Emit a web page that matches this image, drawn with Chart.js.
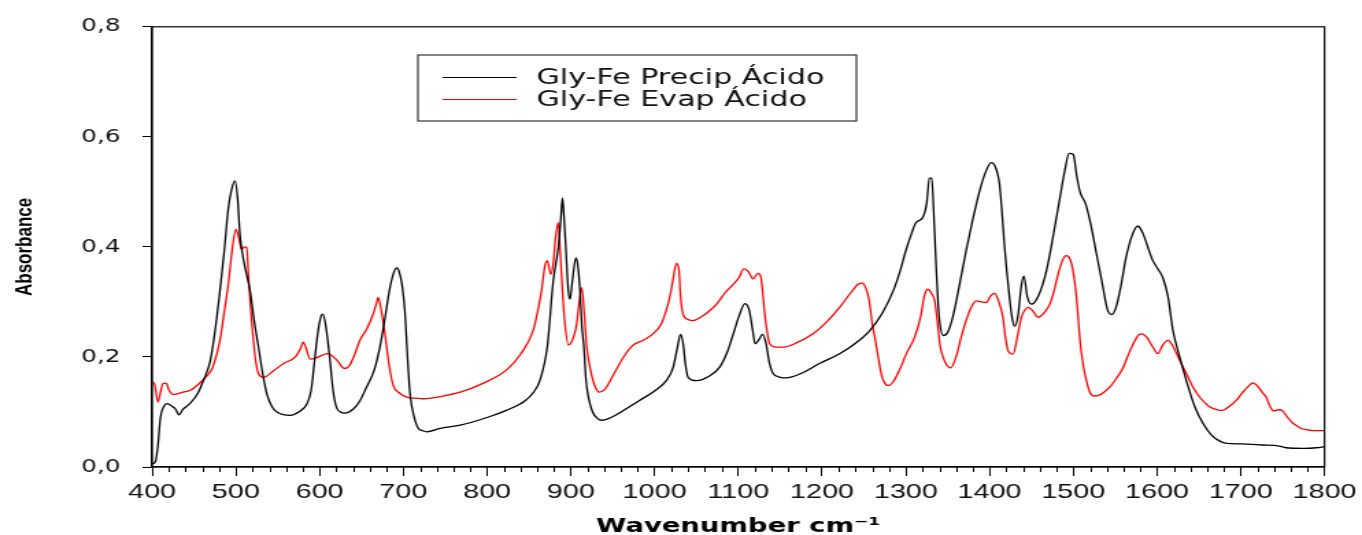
<!DOCTYPE html>
<html><head><meta charset="utf-8">
<script src="https://cdn.jsdelivr.net/npm/chart.js@4"></script>
<style>
html,body{margin:0;padding:0;background:#fff;overflow:hidden;}
#wrap{width:994px;height:535px;transform:scaleX(1.37022);transform-origin:0 0;}
canvas{display:block;}
</style></head><body>
<div id="wrap"><canvas id="c" width="994" height="535"></canvas></div>
<script>
const seriesNames = ['Gly-Fe Precip Ácido', 'Gly-Fe Evap Ácido'];
const xTitle = 'Wavenumber cm⁻¹';
const yTitle = 'Absorbance';

const precipWn = [
  400,404,407,410,414,418,424,428,432,437,
  445,455,462,469,475,481,486,491,495,499,
  502,505,510,517,522,527,532,537,543,549,
  557,565,575,585,590,594.5,598,602,604,607,
  612,616,620,625,630,640,648,656,665,672,
  678,684,689,692,695,699,702,705,708,713,
  718,723,728,744,768,800,823,845,855,863,872,
  879,885,888,890,892,894,897,899,902,906,
  908,911,913,915.6,918,921,926,932,937,945,
  960,982,1000,1014,1022,1027,1031,1034,1037,1040,
  1050,1065,1078,1087,1094,1101,1108,1113,1117,1120,
  1124,1129,1133,1137,1141.5,1150,1157,1175,1197,1221,
  1240,1257,1272,1285,1293,1300,1307,1312,1320,1325,
  1328,1331,1334,1337,1340,1345,1350,1356,1364,1372,
  1380,1388,1395,1402,1407,1412,1415,1418,1423,1427,
  1430,1434,1438,1441,1445,1450,1458,1468,1476,1484,
  1490,1495,1500,1504,1508,1515,1521,1527,1535,1541,
  1546,1551,1557,1563,1570,1577,1583,1590,1595,1601,
  1607,1613,1619,1627,1635,1645,1655,1665,1675,1683,
  1700,1725,1746,1754,1775,1790,1800
];
const precipAbs = [
  0.005,0.01,0.04,0.09,0.11,0.115,0.11,0.105,0.095,0.105,
  0.115,0.135,0.16,0.19,0.245,0.32,0.39,0.47,0.505,0.52,
  0.49,0.42,0.37,0.32,0.265,0.218,0.17,0.133,0.11,0.1,
  0.095,0.094,0.1,0.115,0.14,0.2,0.245,0.275,0.278,0.26,
  0.2,0.14,0.109,0.1,0.098,0.105,0.12,0.145,0.175,0.218,
  0.27,0.326,0.355,0.362,0.355,0.325,0.28,0.2,0.133,0.09,
  0.07,0.066,0.064,0.07,0.076,0.09,0.103,0.12,0.135,0.157,0.22,
  0.338,0.399,0.45,0.489,0.45,0.399,0.32,0.305,0.34,0.38,
  0.37,0.32,0.26,0.218,0.16,0.127,0.1,0.088,0.085,0.088,
  0.1,0.121,0.138,0.157,0.18,0.215,0.241,0.225,0.185,0.163,
  0.157,0.165,0.182,0.21,0.242,0.275,0.297,0.285,0.25,0.224,
  0.23,0.241,0.225,0.19,0.17,0.163,0.162,0.17,0.188,0.206,
  0.225,0.248,0.28,0.32,0.355,0.393,0.425,0.444,0.453,0.48,
  0.525,0.525,0.44,0.34,0.27,0.239,0.245,0.272,0.33,0.393,
  0.45,0.501,0.535,0.553,0.545,0.513,0.46,0.399,0.32,0.27,
  0.256,0.275,0.33,0.347,0.31,0.296,0.31,0.357,0.42,0.489,
  0.54,0.57,0.568,0.53,0.5,0.477,0.44,0.393,0.33,0.285,
  0.277,0.29,0.33,0.381,0.42,0.438,0.425,0.395,0.375,0.36,
  0.344,0.31,0.248,0.2,0.157,0.11,0.079,0.058,0.047,0.043,
  0.042,0.04,0.038,0.035,0.034,0.035,0.037
];

const evapWn = [
  400,403,407,410,413,417,420,425,430,437,
  445,455,465,472,481,486,491,496,500,503,
  507,510,513,515,517,521,524,527,533,545,
  557,571,577,580.6,584,588.6,595,603,610,620,
  630,636,642,648,656,664,668,670,673,678,
  683,688,695,704,715,724,744,768,795,823,
  840,855,860,865,869,872,876,879,882,885,
  887,890,893,897,900,904,907,910,913,916,
  919,923,928,934,940,950,963,974,986,998,
  1008,1014,1018,1022,1026,1029,1031,1034,1040,1046,
  1055,1065,1074,1085,1094,1101,1106.5,1112,1117.6,1123.6,
  1127,1131.6,1135,1137.5,1145,1153.4,1170,1190,1207,1221,
  1235,1243,1248,1252,1256,1260,1263,1267,1271,1275,
  1279,1285,1293,1300.7,1310.6,1318,1322,1326,1331,1334.5,
  1338,1341,1344.4,1349,1353.6,1360,1366,1372,1378,1384,
  1390,1396,1401,1406,1410,1416,1419,1422,1428,1433,
  1438,1442,1446,1452,1458,1465,1472,1477,1482,1487,
  1491.6,1496,1499.6,1503,1505.5,1508,1511.5,1516,1520,1525.4,
  1533,1543.4,1551,1559,1566,1573,1578,1582,1588,1595,
  1601,1607,1613,1618,1627,1635,1643,1652,1663,1672,
  1678.6,1686,1694.6,1703,1710,1714.4,1720,1726,1730.3,1735,
  1739,1745,1750,1756,1762,1766,1772,1778,1788,1800
];
const evapAbs = [
  0.155,0.15,0.118,0.135,0.152,0.152,0.14,0.132,0.133,0.136,
  0.139,0.15,0.165,0.18,0.23,0.28,0.332,0.4,0.432,0.42,
  0.395,0.4,0.399,0.35,0.302,0.23,0.19,0.17,0.163,0.175,
  0.188,0.2,0.215,0.227,0.215,0.196,0.198,0.203,0.206,0.195,
  0.179,0.185,0.205,0.23,0.25,0.278,0.298,0.308,0.29,0.242,
  0.185,0.148,0.135,0.127,0.125,0.124,0.128,0.136,0.152,0.176,
  0.205,0.248,0.28,0.32,0.365,0.375,0.35,0.37,0.42,0.444,
  0.4,0.32,0.26,0.222,0.225,0.24,0.26,0.3,0.326,0.28,
  0.218,0.18,0.15,0.136,0.14,0.165,0.2,0.221,0.23,0.242,
  0.26,0.285,0.308,0.34,0.37,0.36,0.31,0.278,0.268,0.266,
  0.272,0.283,0.296,0.318,0.332,0.345,0.36,0.355,0.342,0.352,
  0.345,0.278,0.24,0.224,0.218,0.218,0.226,0.243,0.266,0.29,
  0.318,0.332,0.334,0.326,0.305,0.26,0.236,0.2,0.167,0.152,
  0.148,0.155,0.178,0.206,0.236,0.275,0.31,0.323,0.315,0.302,
  0.26,0.22,0.2,0.185,0.18,0.2,0.235,0.266,0.29,0.302,
  0.3,0.299,0.31,0.316,0.305,0.272,0.235,0.212,0.205,0.235,
  0.272,0.285,0.29,0.283,0.272,0.28,0.296,0.32,0.351,0.375,
  0.384,0.378,0.357,0.32,0.278,0.23,0.188,0.155,0.135,0.129,
  0.132,0.145,0.16,0.179,0.205,0.228,0.24,0.242,0.235,0.218,
  0.206,0.222,0.23,0.222,0.194,0.17,0.145,0.125,0.109,0.104,
  0.103,0.11,0.121,0.137,0.148,0.153,0.147,0.135,0.127,0.11,
  0.102,0.104,0.102,0.09,0.08,0.076,0.07,0.068,0.066,0.066
];

const xMin = 400, xMax = 1800, xMajorStep = 100, xMinorStep = 20;
const yMin = 0, yMax = 0.8, yStep = 0.2;

const toPoints = (xs, ys) => xs.map((x, i) => ({x: x, y: ys[i]}));

const frameAndMinor = {
  id: 'frameAndMinor',
  afterDraw(chart) {
    const {ctx, chartArea: a, scales: {x}} = chart;
    ctx.save();
    ctx.strokeStyle = '#000';
    ctx.lineWidth = 1.2;
    ctx.strokeRect(a.left, a.top, a.right - a.left, a.bottom - a.top);
    ctx.lineWidth = 1;
    ctx.beginPath();
    for (let v = xMin; v <= xMax; v += xMinorStep) {
      if (v % xMajorStep === 0) continue;
      const px = Math.round(x.getPixelForValue(v)) + 0.5;
      ctx.moveTo(px, a.bottom);
      ctx.lineTo(px, a.bottom + 5);
    }
    ctx.stroke();
    // legend
    const L = 305, T = 55, R = 625, B = 121;
    ctx.strokeStyle = '#333';
    ctx.lineWidth = 1.2;
    ctx.strokeRect(L, T, R - L, B - T);
    const rows = [77, 99];
    ctx.font = "22px 'DejaVu Sans'";
    ctx.textBaseline = 'middle';
    ctx.textAlign = 'left';
    chart.data.datasets.forEach((ds, i) => {
      ctx.strokeStyle = ds.borderColor;
      ctx.lineWidth = 1;
      ctx.beginPath();
      ctx.moveTo(323, rows[i] + 0.5);
      ctx.lineTo(377, rows[i] + 0.5);
      ctx.stroke();
      ctx.fillStyle = '#111';
      ctx.fillText(ds.label, 391.5, rows[i] + 1);
    });
    ctx.restore();
  }
};

new Chart(document.getElementById('c'), {
  type: 'line',
  data: {
    datasets: [
      {label: seriesNames[0], data: toPoints(precipWn, precipAbs), borderColor: '#000000', borderWidth: 1.3, pointRadius: 0, cubicInterpolationMode: 'monotone', fill: false},
      {label: seriesNames[1], data: toPoints(evapWn, evapAbs), borderColor: '#ff0000', borderWidth: 1.3, pointRadius: 0, cubicInterpolationMode: 'monotone', fill: false}
    ]
  },
  options: {
    responsive: false,
    animation: false,
    devicePixelRatio: 1,
    layout: {padding: {left: 0, right: 27, top: 25, bottom: 0}},
    plugins: {legend: {display: false}, tooltip: {enabled: false}},
    scales: {
      x: {
        type: 'linear', min: xMin, max: xMax,
        afterFit: s => { s.height = 68; },
        ticks: {stepSize: xMajorStep, padding: 4, color: '#111', font: {family: "'Liberation Sans', Arial", size: 21}, maxRotation: 0, autoSkip: false, callback: v => String(v)},
        grid: {drawOnChartArea: false, drawTicks: true, tickLength: 9, tickColor: '#000', tickWidth: 1},
        border: {display: true, color: '#000', width: 1.2},
        title: {display: true, text: xTitle, color: '#000', font: {family: "'DejaVu Sans'", size: 20, weight: 'bold', lineHeight: 0.8}, padding: {top: 0, bottom: 0}}
      },
      y: {
        min: yMin, max: yMax,
        afterFit: s => { s.width = 111; },
        ticks: {stepSize: yStep, padding: 16, color: '#111', font: {family: "'DejaVu Sans'", size: 18}, callback: v => v.toFixed(1).replace('.', ',')},
        grid: {drawOnChartArea: false, drawTicks: true, tickLength: 7, tickColor: '#000', tickWidth: 1},
        border: {display: true, color: '#000', width: 1.2},
        title: {display: true, text: yTitle, color: '#000', font: {family: "'Liberation Sans Narrow', 'Liberation Sans', Arial", size: 17, weight: 'bold', lineHeight: 1.2}, padding: {top: 8, bottom: 0}}
      }
    }
  },
  plugins: [frameAndMinor]
});
</script>
</body></html>
